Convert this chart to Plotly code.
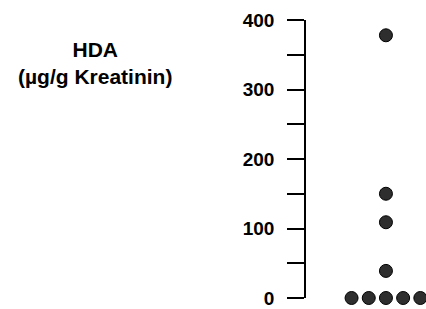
import plotly.graph_objects as go
from collections import defaultdict

# Data
hda_values = [378, 150, 109, 39, 0, 0, 0, 0, 0]
y_ticks = [0, 100, 200, 300, 400]
y_tick_labels = ["0", "100", "200", "300", "400"]
title_lines = ["HDA", "(µg/g Kreatinin)"]

# simple beeswarm: spread tied values symmetrically
groups = defaultdict(list)
for i, v in enumerate(hda_values):
    groups[v].append(i)
xs = [0.0] * len(hda_values)
for v, idx in groups.items():
    n = len(idx)
    for k, i in enumerate(idx):
        xs[i] = k - (n - 1) / 2

W, H = 426, 309
ML, MR, MT, MB = 306, 0, 20, 11

fig = go.Figure()
fig.add_trace(go.Scatter(
    x=xs, y=hda_values, mode="markers",
    marker=dict(size=13, color="#2e2e2e", line=dict(color="#000000", width=1)),
    cliponaxis=False, showlegend=False,
))

fig.update_layout(
    width=W, height=H,
    margin=dict(l=ML, r=MR, t=MT, b=MB),
    plot_bgcolor="white", paper_bgcolor="white",
    font=dict(family="Liberation Sans, Arial, sans-serif", color="#000000"),
    xaxis=dict(visible=False, range=[-4.65, 2.33]),
    yaxis=dict(
        range=[0, 400],
        tickmode="array", tickvals=y_ticks, ticktext=y_tick_labels,
        ticks="outside", ticklen=17, tickwidth=1.5, tickcolor="#000",
        showline=True, linecolor="#000", linewidth=1.5,
        showgrid=False, zeroline=False,
        tickfont=dict(size=19, family="Liberation Sans, Arial, sans-serif", weight="bold"),
        ticklabelstandoff=9,
        minor=dict(dtick=50, tick0=0, ticks="outside", ticklen=17, tickwidth=1.5, tickcolor="#000", showgrid=False),
    ),
)
plot_w = W - ML - MR
plot_h = H - MT - MB
fig.add_annotation(
    text="<b>" + title_lines[0] + "</b><br><b>" + title_lines[1] + "</b>",
    x=(95 - ML) / plot_w, y=1 - (63 - MT) / plot_h, xref="paper", yref="paper",
    showarrow=False, font=dict(size=21), align="center",
    xanchor="center", yanchor="middle",
)

fig.write_html("out.html", config={"displayModeBar": False},
               post_script="document.body.style.margin='0';")
